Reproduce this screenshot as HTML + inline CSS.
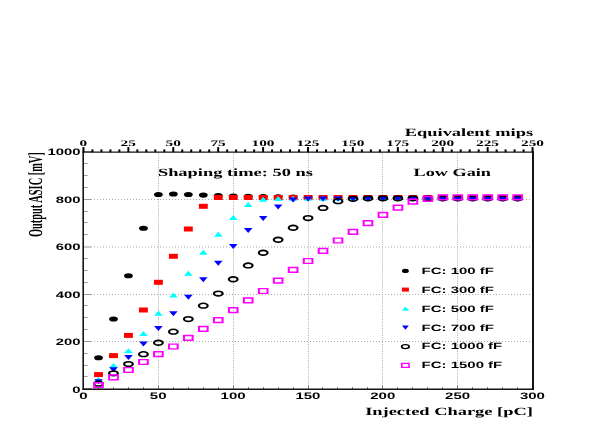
<!DOCTYPE html>
<html><head><meta charset="utf-8"><title>Output ASIC vs Injected Charge</title>
<style>html,body{margin:0;padding:0;background:#fff;}svg{display:block;will-change:transform;}.sf{font-family:"Liberation Serif",serif;font-weight:bold;fill:#000;text-rendering:geometricPrecision;}.ss{font-family:"Liberation Sans",sans-serif;font-weight:bold;fill:#000;text-rendering:geometricPrecision;}</style></head><body>
<svg width="599" height="436" viewBox="0 0 599 436">
<rect x="0" y="0" width="599" height="436" fill="#ffffff"/>
<g stroke="#aaaaaa" stroke-width="1" fill="none">
<line x1="158.50" y1="153.40" x2="158.50" y2="388.30" stroke-dasharray="0.95 1.32"/>
<line x1="233.50" y1="153.40" x2="233.50" y2="388.30" stroke-dasharray="0.95 1.32"/>
<line x1="308.50" y1="153.40" x2="308.50" y2="388.30" stroke-dasharray="0.95 1.32"/>
<line x1="382.50" y1="153.40" x2="382.50" y2="388.30" stroke-dasharray="0.95 1.32"/>
<line x1="457.50" y1="153.40" x2="457.50" y2="388.30" stroke-dasharray="0.95 1.32"/>
<line x1="94.00" y1="341.50" x2="532.50" y2="341.50" stroke-dasharray="1 2"/>
<line x1="94.00" y1="294.50" x2="532.50" y2="294.50" stroke-dasharray="1 2"/>
<line x1="94.00" y1="247.00" x2="532.50" y2="247.00" stroke-dasharray="1 2"/>
<line x1="94.00" y1="199.50" x2="532.50" y2="199.50" stroke-dasharray="1 2"/>
</g>
<g stroke="#999999" stroke-width="1" fill="none">
<line x1="83.00" y1="388.50" x2="91.80" y2="388.50"/>
<line x1="83.00" y1="376.50" x2="87.60" y2="376.50"/>
<line x1="83.00" y1="365.50" x2="87.60" y2="365.50"/>
<line x1="83.00" y1="353.50" x2="87.60" y2="353.50"/>
<line x1="83.00" y1="341.50" x2="91.80" y2="341.50"/>
<line x1="83.00" y1="329.50" x2="87.60" y2="329.50"/>
<line x1="83.00" y1="317.50" x2="87.60" y2="317.50"/>
<line x1="83.00" y1="305.50" x2="87.60" y2="305.50"/>
<line x1="83.00" y1="294.50" x2="91.80" y2="294.50"/>
<line x1="83.00" y1="282.50" x2="87.60" y2="282.50"/>
<line x1="83.00" y1="270.50" x2="87.60" y2="270.50"/>
<line x1="83.00" y1="258.50" x2="87.60" y2="258.50"/>
<line x1="83.00" y1="247.00" x2="91.80" y2="247.00"/>
<line x1="83.00" y1="234.50" x2="87.60" y2="234.50"/>
<line x1="83.00" y1="222.50" x2="87.60" y2="222.50"/>
<line x1="83.00" y1="211.50" x2="87.60" y2="211.50"/>
<line x1="83.00" y1="199.50" x2="91.80" y2="199.50"/>
<line x1="83.00" y1="187.50" x2="87.60" y2="187.50"/>
<line x1="83.00" y1="175.50" x2="87.60" y2="175.50"/>
<line x1="83.00" y1="163.50" x2="87.60" y2="163.50"/>
<line x1="83.00" y1="151.50" x2="91.80" y2="151.50"/>
</g>
<g stroke="#858585" stroke-width="1" fill="none">
<line x1="83.50" y1="389.30" x2="83.50" y2="384.90"/>
<line x1="98.50" y1="389.30" x2="98.50" y2="386.90"/>
<line x1="113.50" y1="389.30" x2="113.50" y2="386.90"/>
<line x1="128.50" y1="389.30" x2="128.50" y2="386.90"/>
<line x1="143.50" y1="389.30" x2="143.50" y2="386.90"/>
<line x1="158.50" y1="389.30" x2="158.50" y2="384.90"/>
<line x1="173.50" y1="389.30" x2="173.50" y2="386.90"/>
<line x1="188.50" y1="389.30" x2="188.50" y2="386.90"/>
<line x1="203.50" y1="389.30" x2="203.50" y2="386.90"/>
<line x1="218.50" y1="389.30" x2="218.50" y2="386.90"/>
<line x1="233.50" y1="389.30" x2="233.50" y2="384.90"/>
<line x1="248.50" y1="389.30" x2="248.50" y2="386.90"/>
<line x1="263.50" y1="389.30" x2="263.50" y2="386.90"/>
<line x1="278.50" y1="389.30" x2="278.50" y2="386.90"/>
<line x1="293.50" y1="389.30" x2="293.50" y2="386.90"/>
<line x1="308.50" y1="389.30" x2="308.50" y2="384.90"/>
<line x1="322.50" y1="389.30" x2="322.50" y2="386.90"/>
<line x1="337.50" y1="389.30" x2="337.50" y2="386.90"/>
<line x1="352.50" y1="389.30" x2="352.50" y2="386.90"/>
<line x1="367.50" y1="389.30" x2="367.50" y2="386.90"/>
<line x1="382.50" y1="389.30" x2="382.50" y2="384.90"/>
<line x1="397.50" y1="389.30" x2="397.50" y2="386.90"/>
<line x1="412.50" y1="389.30" x2="412.50" y2="386.90"/>
<line x1="427.50" y1="389.30" x2="427.50" y2="386.90"/>
<line x1="442.50" y1="389.30" x2="442.50" y2="386.90"/>
<line x1="457.50" y1="389.30" x2="457.50" y2="384.90"/>
<line x1="472.50" y1="389.30" x2="472.50" y2="386.90"/>
<line x1="487.50" y1="389.30" x2="487.50" y2="386.90"/>
<line x1="502.50" y1="389.30" x2="502.50" y2="386.90"/>
<line x1="517.50" y1="389.30" x2="517.50" y2="386.90"/>
<line x1="532.50" y1="389.30" x2="532.50" y2="384.90"/>
</g>
<g>
<ellipse cx="98.52" cy="357.80" rx="4.4" ry="2.55" fill="#000"/>
<ellipse cx="113.49" cy="319.00" rx="4.4" ry="2.55" fill="#000"/>
<ellipse cx="128.46" cy="275.70" rx="4.4" ry="2.55" fill="#000"/>
<ellipse cx="143.43" cy="228.30" rx="4.4" ry="2.55" fill="#000"/>
<ellipse cx="158.40" cy="194.50" rx="4.4" ry="2.55" fill="#000"/>
<ellipse cx="173.37" cy="194.00" rx="4.4" ry="2.55" fill="#000"/>
<ellipse cx="188.34" cy="194.50" rx="4.4" ry="2.55" fill="#000"/>
<ellipse cx="203.31" cy="195.10" rx="4.4" ry="2.55" fill="#000"/>
<ellipse cx="218.28" cy="195.60" rx="4.4" ry="2.55" fill="#000"/>
<ellipse cx="233.25" cy="196.00" rx="4.4" ry="2.55" fill="#000"/>
<ellipse cx="248.22" cy="196.30" rx="4.4" ry="2.55" fill="#000"/>
<ellipse cx="263.19" cy="196.60" rx="4.4" ry="2.55" fill="#000"/>
<ellipse cx="278.16" cy="196.80" rx="4.4" ry="2.55" fill="#000"/>
<ellipse cx="293.13" cy="197.00" rx="4.4" ry="2.55" fill="#000"/>
<ellipse cx="308.10" cy="197.60" rx="4.4" ry="2.55" fill="#000"/>
<ellipse cx="323.07" cy="197.60" rx="4.4" ry="2.55" fill="#000"/>
<ellipse cx="338.04" cy="197.60" rx="4.4" ry="2.55" fill="#000"/>
<ellipse cx="353.01" cy="197.60" rx="4.4" ry="2.55" fill="#000"/>
<ellipse cx="367.98" cy="197.60" rx="4.4" ry="2.55" fill="#000"/>
<ellipse cx="382.95" cy="197.60" rx="4.4" ry="2.55" fill="#000"/>
<ellipse cx="397.92" cy="197.60" rx="4.4" ry="2.55" fill="#000"/>
<ellipse cx="412.89" cy="197.60" rx="4.4" ry="2.55" fill="#000"/>
<ellipse cx="427.86" cy="197.60" rx="4.4" ry="2.55" fill="#000"/>
<ellipse cx="442.83" cy="197.60" rx="4.4" ry="2.55" fill="#000"/>
<ellipse cx="457.80" cy="197.60" rx="4.4" ry="2.55" fill="#000"/>
<ellipse cx="472.77" cy="197.60" rx="4.4" ry="2.55" fill="#000"/>
<ellipse cx="487.74" cy="197.60" rx="4.4" ry="2.55" fill="#000"/>
<ellipse cx="502.71" cy="197.60" rx="4.4" ry="2.55" fill="#000"/>
<ellipse cx="517.68" cy="197.60" rx="4.4" ry="2.55" fill="#000"/>
<rect x="94.07" y="372.10" width="8.9" height="5.0" fill="#ff0000"/>
<rect x="109.04" y="353.10" width="8.9" height="5.0" fill="#ff0000"/>
<rect x="124.01" y="332.90" width="8.9" height="5.0" fill="#ff0000"/>
<rect x="138.98" y="307.50" width="8.9" height="5.0" fill="#ff0000"/>
<rect x="153.95" y="279.80" width="8.9" height="5.0" fill="#ff0000"/>
<rect x="168.92" y="253.80" width="8.9" height="5.0" fill="#ff0000"/>
<rect x="183.89" y="226.50" width="8.9" height="5.0" fill="#ff0000"/>
<rect x="198.86" y="203.80" width="8.9" height="5.0" fill="#ff0000"/>
<rect x="213.83" y="195.00" width="8.9" height="5.0" fill="#ff0000"/>
<rect x="228.80" y="195.00" width="8.9" height="5.0" fill="#ff0000"/>
<rect x="243.77" y="195.00" width="8.9" height="5.0" fill="#ff0000"/>
<rect x="258.74" y="195.00" width="8.9" height="5.0" fill="#ff0000"/>
<rect x="273.71" y="195.00" width="8.9" height="5.0" fill="#ff0000"/>
<rect x="288.68" y="195.00" width="8.9" height="5.0" fill="#ff0000"/>
<rect x="303.65" y="195.00" width="8.9" height="5.0" fill="#ff0000"/>
<rect x="318.62" y="195.00" width="8.9" height="5.0" fill="#ff0000"/>
<rect x="333.59" y="195.00" width="8.9" height="5.0" fill="#ff0000"/>
<rect x="348.56" y="195.00" width="8.9" height="5.0" fill="#ff0000"/>
<rect x="363.53" y="195.00" width="8.9" height="5.0" fill="#ff0000"/>
<rect x="378.50" y="195.00" width="8.9" height="5.0" fill="#ff0000"/>
<rect x="393.47" y="195.00" width="8.9" height="5.0" fill="#ff0000"/>
<rect x="408.44" y="195.00" width="8.9" height="5.0" fill="#ff0000"/>
<rect x="423.41" y="195.00" width="8.9" height="5.0" fill="#ff0000"/>
<rect x="438.38" y="195.00" width="8.9" height="5.0" fill="#ff0000"/>
<rect x="453.35" y="195.00" width="8.9" height="5.0" fill="#ff0000"/>
<rect x="468.32" y="195.00" width="8.9" height="5.0" fill="#ff0000"/>
<rect x="483.29" y="195.00" width="8.9" height="5.0" fill="#ff0000"/>
<rect x="498.26" y="195.00" width="8.9" height="5.0" fill="#ff0000"/>
<rect x="513.23" y="195.00" width="8.9" height="5.0" fill="#ff0000"/>
<path d="M94.22 381.90L102.82 381.90L98.52 376.90Z" fill="#00ffff"/>
<path d="M109.19 368.10L117.79 368.10L113.49 363.10Z" fill="#00ffff"/>
<path d="M124.16 353.20L132.76 353.20L128.46 348.20Z" fill="#00ffff"/>
<path d="M139.13 335.90L147.73 335.90L143.43 330.90Z" fill="#00ffff"/>
<path d="M154.10 315.80L162.70 315.80L158.40 310.80Z" fill="#00ffff"/>
<path d="M169.07 297.40L177.67 297.40L173.37 292.40Z" fill="#00ffff"/>
<path d="M184.04 275.80L192.64 275.80L188.34 270.80Z" fill="#00ffff"/>
<path d="M199.01 254.70L207.61 254.70L203.31 249.70Z" fill="#00ffff"/>
<path d="M213.98 236.70L222.58 236.70L218.28 231.70Z" fill="#00ffff"/>
<path d="M228.95 220.00L237.55 220.00L233.25 215.00Z" fill="#00ffff"/>
<path d="M243.92 207.00L252.52 207.00L248.22 202.00Z" fill="#00ffff"/>
<path d="M258.89 201.80L267.49 201.80L263.19 196.80Z" fill="#00ffff"/>
<path d="M273.86 201.00L282.46 201.00L278.16 196.00Z" fill="#00ffff"/>
<path d="M288.83 200.80L297.43 200.80L293.13 195.80Z" fill="#00ffff"/>
<path d="M303.80 200.70L312.40 200.70L308.10 195.70Z" fill="#00ffff"/>
<path d="M318.77 200.70L327.37 200.70L323.07 195.70Z" fill="#00ffff"/>
<path d="M333.74 200.70L342.34 200.70L338.04 195.70Z" fill="#00ffff"/>
<path d="M348.71 200.70L357.31 200.70L353.01 195.70Z" fill="#00ffff"/>
<path d="M363.68 200.70L372.28 200.70L367.98 195.70Z" fill="#00ffff"/>
<path d="M378.65 200.70L387.25 200.70L382.95 195.70Z" fill="#00ffff"/>
<path d="M393.62 200.70L402.22 200.70L397.92 195.70Z" fill="#00ffff"/>
<path d="M408.59 200.70L417.19 200.70L412.89 195.70Z" fill="#00ffff"/>
<path d="M423.56 200.70L432.16 200.70L427.86 195.70Z" fill="#00ffff"/>
<path d="M438.53 200.70L447.13 200.70L442.83 195.70Z" fill="#00ffff"/>
<path d="M453.50 200.70L462.10 200.70L457.80 195.70Z" fill="#00ffff"/>
<path d="M468.47 200.70L477.07 200.70L472.77 195.70Z" fill="#00ffff"/>
<path d="M483.44 200.70L492.04 200.70L487.74 195.70Z" fill="#00ffff"/>
<path d="M498.41 200.70L507.01 200.70L502.71 195.70Z" fill="#00ffff"/>
<path d="M513.38 200.70L521.98 200.70L517.68 195.70Z" fill="#00ffff"/>
<path d="M94.22 379.20L102.82 379.20L98.52 384.20Z" fill="#0000ff"/>
<path d="M109.19 367.20L117.79 367.20L113.49 372.20Z" fill="#0000ff"/>
<path d="M124.16 355.00L132.76 355.00L128.46 360.00Z" fill="#0000ff"/>
<path d="M139.13 341.40L147.73 341.40L143.43 346.40Z" fill="#0000ff"/>
<path d="M154.10 326.10L162.70 326.10L158.40 331.10Z" fill="#0000ff"/>
<path d="M169.07 311.20L177.67 311.20L173.37 316.20Z" fill="#0000ff"/>
<path d="M184.04 294.80L192.64 294.80L188.34 299.80Z" fill="#0000ff"/>
<path d="M199.01 277.20L207.61 277.20L203.31 282.20Z" fill="#0000ff"/>
<path d="M213.98 260.80L222.58 260.80L218.28 265.80Z" fill="#0000ff"/>
<path d="M228.95 244.10L237.55 244.10L233.25 249.10Z" fill="#0000ff"/>
<path d="M243.92 228.00L252.52 228.00L248.22 233.00Z" fill="#0000ff"/>
<path d="M258.89 216.00L267.49 216.00L263.19 221.00Z" fill="#0000ff"/>
<path d="M273.86 204.40L282.46 204.40L278.16 209.40Z" fill="#0000ff"/>
<path d="M288.83 197.60L297.43 197.60L293.13 202.60Z" fill="#0000ff"/>
<path d="M303.80 196.50L312.40 196.50L308.10 201.50Z" fill="#0000ff"/>
<path d="M318.77 196.50L327.37 196.50L323.07 201.50Z" fill="#0000ff"/>
<path d="M333.74 196.50L342.34 196.50L338.04 201.50Z" fill="#0000ff"/>
<path d="M348.71 196.50L357.31 196.50L353.01 201.50Z" fill="#0000ff"/>
<path d="M363.68 196.50L372.28 196.50L367.98 201.50Z" fill="#0000ff"/>
<path d="M378.65 196.50L387.25 196.50L382.95 201.50Z" fill="#0000ff"/>
<path d="M393.62 196.50L402.22 196.50L397.92 201.50Z" fill="#0000ff"/>
<path d="M408.59 196.50L417.19 196.50L412.89 201.50Z" fill="#0000ff"/>
<path d="M423.56 196.50L432.16 196.50L427.86 201.50Z" fill="#0000ff"/>
<path d="M438.53 196.50L447.13 196.50L442.83 201.50Z" fill="#0000ff"/>
<path d="M453.50 196.50L462.10 196.50L457.80 201.50Z" fill="#0000ff"/>
<path d="M468.47 196.50L477.07 196.50L472.77 201.50Z" fill="#0000ff"/>
<path d="M483.44 196.50L492.04 196.50L487.74 201.50Z" fill="#0000ff"/>
<path d="M498.41 196.50L507.01 196.50L502.71 201.50Z" fill="#0000ff"/>
<path d="M513.38 196.50L521.98 196.50L517.68 201.50Z" fill="#0000ff"/>
<path d="M93.07 383.65a5.45 3.15 0 1 0 10.90 0a5.45 3.15 0 1 0 -10.90 0ZM95.32 383.65a3.2 1.55 0 1 0 6.40 0a3.2 1.55 0 1 0 -6.40 0Z" fill="#000" fill-rule="evenodd"/>
<path d="M108.04 373.35a5.45 3.15 0 1 0 10.90 0a5.45 3.15 0 1 0 -10.90 0ZM110.29 373.35a3.2 1.55 0 1 0 6.40 0a3.2 1.55 0 1 0 -6.40 0Z" fill="#000" fill-rule="evenodd"/>
<path d="M123.01 364.05a5.45 3.15 0 1 0 10.90 0a5.45 3.15 0 1 0 -10.90 0ZM125.26 364.05a3.2 1.55 0 1 0 6.40 0a3.2 1.55 0 1 0 -6.40 0Z" fill="#000" fill-rule="evenodd"/>
<path d="M137.98 354.15a5.45 3.15 0 1 0 10.90 0a5.45 3.15 0 1 0 -10.90 0ZM140.23 354.15a3.2 1.55 0 1 0 6.40 0a3.2 1.55 0 1 0 -6.40 0Z" fill="#000" fill-rule="evenodd"/>
<path d="M152.95 342.75a5.45 3.15 0 1 0 10.90 0a5.45 3.15 0 1 0 -10.90 0ZM155.20 342.75a3.2 1.55 0 1 0 6.40 0a3.2 1.55 0 1 0 -6.40 0Z" fill="#000" fill-rule="evenodd"/>
<path d="M167.92 331.65a5.45 3.15 0 1 0 10.90 0a5.45 3.15 0 1 0 -10.90 0ZM170.17 331.65a3.2 1.55 0 1 0 6.40 0a3.2 1.55 0 1 0 -6.40 0Z" fill="#000" fill-rule="evenodd"/>
<path d="M182.89 319.05a5.45 3.15 0 1 0 10.90 0a5.45 3.15 0 1 0 -10.90 0ZM185.14 319.05a3.2 1.55 0 1 0 6.40 0a3.2 1.55 0 1 0 -6.40 0Z" fill="#000" fill-rule="evenodd"/>
<path d="M197.86 305.65a5.45 3.15 0 1 0 10.90 0a5.45 3.15 0 1 0 -10.90 0ZM200.11 305.65a3.2 1.55 0 1 0 6.40 0a3.2 1.55 0 1 0 -6.40 0Z" fill="#000" fill-rule="evenodd"/>
<path d="M212.83 293.55a5.45 3.15 0 1 0 10.90 0a5.45 3.15 0 1 0 -10.90 0ZM215.08 293.55a3.2 1.55 0 1 0 6.40 0a3.2 1.55 0 1 0 -6.40 0Z" fill="#000" fill-rule="evenodd"/>
<path d="M227.80 279.25a5.45 3.15 0 1 0 10.90 0a5.45 3.15 0 1 0 -10.90 0ZM230.05 279.25a3.2 1.55 0 1 0 6.40 0a3.2 1.55 0 1 0 -6.40 0Z" fill="#000" fill-rule="evenodd"/>
<path d="M242.77 265.45a5.45 3.15 0 1 0 10.90 0a5.45 3.15 0 1 0 -10.90 0ZM245.02 265.45a3.2 1.55 0 1 0 6.40 0a3.2 1.55 0 1 0 -6.40 0Z" fill="#000" fill-rule="evenodd"/>
<path d="M257.74 252.75a5.45 3.15 0 1 0 10.90 0a5.45 3.15 0 1 0 -10.90 0ZM259.99 252.75a3.2 1.55 0 1 0 6.40 0a3.2 1.55 0 1 0 -6.40 0Z" fill="#000" fill-rule="evenodd"/>
<path d="M272.71 239.75a5.45 3.15 0 1 0 10.90 0a5.45 3.15 0 1 0 -10.90 0ZM274.96 239.75a3.2 1.55 0 1 0 6.40 0a3.2 1.55 0 1 0 -6.40 0Z" fill="#000" fill-rule="evenodd"/>
<path d="M287.68 227.75a5.45 3.15 0 1 0 10.90 0a5.45 3.15 0 1 0 -10.90 0ZM289.93 227.75a3.2 1.55 0 1 0 6.40 0a3.2 1.55 0 1 0 -6.40 0Z" fill="#000" fill-rule="evenodd"/>
<path d="M302.65 218.05a5.45 3.15 0 1 0 10.90 0a5.45 3.15 0 1 0 -10.90 0ZM304.90 218.05a3.2 1.55 0 1 0 6.40 0a3.2 1.55 0 1 0 -6.40 0Z" fill="#000" fill-rule="evenodd"/>
<path d="M317.62 207.95a5.45 3.15 0 1 0 10.90 0a5.45 3.15 0 1 0 -10.90 0ZM319.87 207.95a3.2 1.55 0 1 0 6.40 0a3.2 1.55 0 1 0 -6.40 0Z" fill="#000" fill-rule="evenodd"/>
<path d="M332.59 201.15a5.45 3.15 0 1 0 10.90 0a5.45 3.15 0 1 0 -10.90 0ZM334.84 201.15a3.2 1.55 0 1 0 6.40 0a3.2 1.55 0 1 0 -6.40 0Z" fill="#000" fill-rule="evenodd"/>
<path d="M347.56 198.85a5.45 3.15 0 1 0 10.90 0a5.45 3.15 0 1 0 -10.90 0ZM349.81 198.85a3.2 1.55 0 1 0 6.40 0a3.2 1.55 0 1 0 -6.40 0Z" fill="#000" fill-rule="evenodd"/>
<path d="M362.53 198.35a5.45 3.15 0 1 0 10.90 0a5.45 3.15 0 1 0 -10.90 0ZM364.78 198.35a3.2 1.55 0 1 0 6.40 0a3.2 1.55 0 1 0 -6.40 0Z" fill="#000" fill-rule="evenodd"/>
<path d="M377.50 198.35a5.45 3.15 0 1 0 10.90 0a5.45 3.15 0 1 0 -10.90 0ZM379.75 198.35a3.2 1.55 0 1 0 6.40 0a3.2 1.55 0 1 0 -6.40 0Z" fill="#000" fill-rule="evenodd"/>
<path d="M392.47 198.35a5.45 3.15 0 1 0 10.90 0a5.45 3.15 0 1 0 -10.90 0ZM394.72 198.35a3.2 1.55 0 1 0 6.40 0a3.2 1.55 0 1 0 -6.40 0Z" fill="#000" fill-rule="evenodd"/>
<path d="M407.44 198.35a5.45 3.15 0 1 0 10.90 0a5.45 3.15 0 1 0 -10.90 0ZM409.69 198.35a3.2 1.55 0 1 0 6.40 0a3.2 1.55 0 1 0 -6.40 0Z" fill="#000" fill-rule="evenodd"/>
<path d="M422.41 198.35a5.45 3.15 0 1 0 10.90 0a5.45 3.15 0 1 0 -10.90 0ZM424.66 198.35a3.2 1.55 0 1 0 6.40 0a3.2 1.55 0 1 0 -6.40 0Z" fill="#000" fill-rule="evenodd"/>
<path d="M437.38 198.35a5.45 3.15 0 1 0 10.90 0a5.45 3.15 0 1 0 -10.90 0ZM439.63 198.35a3.2 1.55 0 1 0 6.40 0a3.2 1.55 0 1 0 -6.40 0Z" fill="#000" fill-rule="evenodd"/>
<path d="M452.35 198.35a5.45 3.15 0 1 0 10.90 0a5.45 3.15 0 1 0 -10.90 0ZM454.60 198.35a3.2 1.55 0 1 0 6.40 0a3.2 1.55 0 1 0 -6.40 0Z" fill="#000" fill-rule="evenodd"/>
<path d="M467.32 198.35a5.45 3.15 0 1 0 10.90 0a5.45 3.15 0 1 0 -10.90 0ZM469.57 198.35a3.2 1.55 0 1 0 6.40 0a3.2 1.55 0 1 0 -6.40 0Z" fill="#000" fill-rule="evenodd"/>
<path d="M482.29 198.35a5.45 3.15 0 1 0 10.90 0a5.45 3.15 0 1 0 -10.90 0ZM484.54 198.35a3.2 1.55 0 1 0 6.40 0a3.2 1.55 0 1 0 -6.40 0Z" fill="#000" fill-rule="evenodd"/>
<path d="M497.26 198.35a5.45 3.15 0 1 0 10.90 0a5.45 3.15 0 1 0 -10.90 0ZM499.51 198.35a3.2 1.55 0 1 0 6.40 0a3.2 1.55 0 1 0 -6.40 0Z" fill="#000" fill-rule="evenodd"/>
<path d="M512.23 198.35a5.45 3.15 0 1 0 10.90 0a5.45 3.15 0 1 0 -10.90 0ZM514.48 198.35a3.2 1.55 0 1 0 6.40 0a3.2 1.55 0 1 0 -6.40 0Z" fill="#000" fill-rule="evenodd"/>
<path d="M93.17 382.00h10.7v6.2h-10.7ZM95.22 383.45h6.6v3.3h-6.6Z" fill="#ff00ff" fill-rule="evenodd"/>
<path d="M108.14 374.20h10.7v6.2h-10.7ZM110.19 375.65h6.6v3.3h-6.6Z" fill="#ff00ff" fill-rule="evenodd"/>
<path d="M123.11 366.90h10.7v6.2h-10.7ZM125.16 368.35h6.6v3.3h-6.6Z" fill="#ff00ff" fill-rule="evenodd"/>
<path d="M138.08 358.90h10.7v6.2h-10.7ZM140.13 360.35h6.6v3.3h-6.6Z" fill="#ff00ff" fill-rule="evenodd"/>
<path d="M153.05 351.00h10.7v6.2h-10.7ZM155.10 352.45h6.6v3.3h-6.6Z" fill="#ff00ff" fill-rule="evenodd"/>
<path d="M168.02 343.40h10.7v6.2h-10.7ZM170.07 344.85h6.6v3.3h-6.6Z" fill="#ff00ff" fill-rule="evenodd"/>
<path d="M182.99 334.70h10.7v6.2h-10.7ZM185.04 336.15h6.6v3.3h-6.6Z" fill="#ff00ff" fill-rule="evenodd"/>
<path d="M197.96 325.70h10.7v6.2h-10.7ZM200.01 327.15h6.6v3.3h-6.6Z" fill="#ff00ff" fill-rule="evenodd"/>
<path d="M212.93 317.00h10.7v6.2h-10.7ZM214.98 318.45h6.6v3.3h-6.6Z" fill="#ff00ff" fill-rule="evenodd"/>
<path d="M227.90 307.10h10.7v6.2h-10.7ZM229.95 308.55h6.6v3.3h-6.6Z" fill="#ff00ff" fill-rule="evenodd"/>
<path d="M242.87 297.20h10.7v6.2h-10.7ZM244.92 298.65h6.6v3.3h-6.6Z" fill="#ff00ff" fill-rule="evenodd"/>
<path d="M257.84 287.90h10.7v6.2h-10.7ZM259.89 289.35h6.6v3.3h-6.6Z" fill="#ff00ff" fill-rule="evenodd"/>
<path d="M272.81 277.50h10.7v6.2h-10.7ZM274.86 278.95h6.6v3.3h-6.6Z" fill="#ff00ff" fill-rule="evenodd"/>
<path d="M287.78 266.80h10.7v6.2h-10.7ZM289.83 268.25h6.6v3.3h-6.6Z" fill="#ff00ff" fill-rule="evenodd"/>
<path d="M302.75 257.90h10.7v6.2h-10.7ZM304.80 259.35h6.6v3.3h-6.6Z" fill="#ff00ff" fill-rule="evenodd"/>
<path d="M317.72 247.70h10.7v6.2h-10.7ZM319.77 249.15h6.6v3.3h-6.6Z" fill="#ff00ff" fill-rule="evenodd"/>
<path d="M332.69 237.40h10.7v6.2h-10.7ZM334.74 238.85h6.6v3.3h-6.6Z" fill="#ff00ff" fill-rule="evenodd"/>
<path d="M347.66 228.70h10.7v6.2h-10.7ZM349.71 230.15h6.6v3.3h-6.6Z" fill="#ff00ff" fill-rule="evenodd"/>
<path d="M362.63 220.10h10.7v6.2h-10.7ZM364.68 221.55h6.6v3.3h-6.6Z" fill="#ff00ff" fill-rule="evenodd"/>
<path d="M377.60 211.80h10.7v6.2h-10.7ZM379.65 213.25h6.6v3.3h-6.6Z" fill="#ff00ff" fill-rule="evenodd"/>
<path d="M392.57 204.60h10.7v6.2h-10.7ZM394.62 206.05h6.6v3.3h-6.6Z" fill="#ff00ff" fill-rule="evenodd"/>
<path d="M407.54 198.60h10.7v6.2h-10.7ZM409.59 200.05h6.6v3.3h-6.6Z" fill="#ff00ff" fill-rule="evenodd"/>
<path d="M422.51 195.70h10.7v6.2h-10.7ZM424.56 197.15h6.6v3.3h-6.6Z" fill="#ff00ff" fill-rule="evenodd"/>
<path d="M437.48 194.30h10.7v6.2h-10.7ZM439.53 195.75h6.6v3.3h-6.6Z" fill="#ff00ff" fill-rule="evenodd"/>
<path d="M452.45 194.30h10.7v6.2h-10.7ZM454.50 195.75h6.6v3.3h-6.6Z" fill="#ff00ff" fill-rule="evenodd"/>
<path d="M467.42 194.30h10.7v6.2h-10.7ZM469.47 195.75h6.6v3.3h-6.6Z" fill="#ff00ff" fill-rule="evenodd"/>
<path d="M482.39 194.30h10.7v6.2h-10.7ZM484.44 195.75h6.6v3.3h-6.6Z" fill="#ff00ff" fill-rule="evenodd"/>
<path d="M497.36 194.30h10.7v6.2h-10.7ZM499.41 195.75h6.6v3.3h-6.6Z" fill="#ff00ff" fill-rule="evenodd"/>
<path d="M512.33 194.30h10.7v6.2h-10.7ZM514.38 195.75h6.6v3.3h-6.6Z" fill="#ff00ff" fill-rule="evenodd"/>
</g>
<g stroke="#141414" fill="none" stroke-linecap="butt">
<line x1="83.2" y1="151.5" x2="83.2" y2="389.9" stroke-width="1.6"/>
<line x1="533.0" y1="151.5" x2="533.0" y2="389.9" stroke-width="2.0"/>
<line x1="82.4" y1="152.15" x2="534.0" y2="152.15" stroke-width="1.3"/>
<line x1="82.4" y1="389.22" x2="534.0" y2="389.22" stroke-width="1.36"/>
</g>
<g stroke="#000" stroke-width="2.0" fill="none">
<line x1="83.45" y1="152.20" x2="83.45" y2="147.10"/>
<line x1="92.43" y1="152.20" x2="92.43" y2="149.40"/>
<line x1="101.41" y1="152.20" x2="101.41" y2="149.40"/>
<line x1="110.40" y1="152.20" x2="110.40" y2="149.40"/>
<line x1="119.38" y1="152.20" x2="119.38" y2="149.40"/>
<line x1="128.36" y1="152.20" x2="128.36" y2="147.10"/>
<line x1="137.34" y1="152.20" x2="137.34" y2="149.40"/>
<line x1="146.32" y1="152.20" x2="146.32" y2="149.40"/>
<line x1="155.31" y1="152.20" x2="155.31" y2="149.40"/>
<line x1="164.29" y1="152.20" x2="164.29" y2="149.40"/>
<line x1="173.27" y1="152.20" x2="173.27" y2="147.10"/>
<line x1="182.25" y1="152.20" x2="182.25" y2="149.40"/>
<line x1="191.23" y1="152.20" x2="191.23" y2="149.40"/>
<line x1="200.22" y1="152.20" x2="200.22" y2="149.40"/>
<line x1="209.20" y1="152.20" x2="209.20" y2="149.40"/>
<line x1="218.18" y1="152.20" x2="218.18" y2="147.10"/>
<line x1="227.16" y1="152.20" x2="227.16" y2="149.40"/>
<line x1="236.14" y1="152.20" x2="236.14" y2="149.40"/>
<line x1="245.13" y1="152.20" x2="245.13" y2="149.40"/>
<line x1="254.11" y1="152.20" x2="254.11" y2="149.40"/>
<line x1="263.09" y1="152.20" x2="263.09" y2="147.10"/>
<line x1="272.07" y1="152.20" x2="272.07" y2="149.40"/>
<line x1="281.05" y1="152.20" x2="281.05" y2="149.40"/>
<line x1="290.04" y1="152.20" x2="290.04" y2="149.40"/>
<line x1="299.02" y1="152.20" x2="299.02" y2="149.40"/>
<line x1="308.00" y1="152.20" x2="308.00" y2="147.10"/>
<line x1="316.98" y1="152.20" x2="316.98" y2="149.40"/>
<line x1="325.96" y1="152.20" x2="325.96" y2="149.40"/>
<line x1="334.95" y1="152.20" x2="334.95" y2="149.40"/>
<line x1="343.93" y1="152.20" x2="343.93" y2="149.40"/>
<line x1="352.91" y1="152.20" x2="352.91" y2="147.10"/>
<line x1="361.89" y1="152.20" x2="361.89" y2="149.40"/>
<line x1="370.87" y1="152.20" x2="370.87" y2="149.40"/>
<line x1="379.86" y1="152.20" x2="379.86" y2="149.40"/>
<line x1="388.84" y1="152.20" x2="388.84" y2="149.40"/>
<line x1="397.82" y1="152.20" x2="397.82" y2="147.10"/>
<line x1="406.80" y1="152.20" x2="406.80" y2="149.40"/>
<line x1="415.78" y1="152.20" x2="415.78" y2="149.40"/>
<line x1="424.77" y1="152.20" x2="424.77" y2="149.40"/>
<line x1="433.75" y1="152.20" x2="433.75" y2="149.40"/>
<line x1="442.73" y1="152.20" x2="442.73" y2="147.10"/>
<line x1="451.71" y1="152.20" x2="451.71" y2="149.40"/>
<line x1="460.69" y1="152.20" x2="460.69" y2="149.40"/>
<line x1="469.68" y1="152.20" x2="469.68" y2="149.40"/>
<line x1="478.66" y1="152.20" x2="478.66" y2="149.40"/>
<line x1="487.64" y1="152.20" x2="487.64" y2="147.10"/>
<line x1="496.62" y1="152.20" x2="496.62" y2="149.40"/>
<line x1="505.60" y1="152.20" x2="505.60" y2="149.40"/>
<line x1="514.59" y1="152.20" x2="514.59" y2="149.40"/>
<line x1="523.57" y1="152.20" x2="523.57" y2="149.40"/>
<line x1="532.55" y1="152.20" x2="532.55" y2="147.10"/>
</g>
<text class="sf" transform="translate(83.35 146.10) scale(1.8 1)" font-size="8.5" text-anchor="middle">0</text>
<text class="sf" transform="translate(128.26 146.10) scale(1.8 1)" font-size="8.5" text-anchor="middle">25</text>
<text class="sf" transform="translate(173.17 146.10) scale(1.8 1)" font-size="8.5" text-anchor="middle">50</text>
<text class="sf" transform="translate(218.08 146.10) scale(1.8 1)" font-size="8.5" text-anchor="middle">75</text>
<text class="sf" transform="translate(262.99 146.10) scale(1.8 1)" font-size="8.5" text-anchor="middle">100</text>
<text class="sf" transform="translate(307.90 146.10) scale(1.8 1)" font-size="8.5" text-anchor="middle">125</text>
<text class="sf" transform="translate(352.81 146.10) scale(1.8 1)" font-size="8.5" text-anchor="middle">150</text>
<text class="sf" transform="translate(397.72 146.10) scale(1.8 1)" font-size="8.5" text-anchor="middle">175</text>
<text class="sf" transform="translate(442.63 146.10) scale(1.8 1)" font-size="8.5" text-anchor="middle">200</text>
<text class="sf" transform="translate(487.54 146.10) scale(1.8 1)" font-size="8.5" text-anchor="middle">225</text>
<text class="sf" transform="translate(532.45 146.10) scale(1.8 1)" font-size="8.5" text-anchor="middle">250</text>
<text class="ss" transform="translate(83.35 398.60) scale(1.61 1)" font-size="9.3" text-anchor="middle">0</text>
<text class="ss" transform="translate(158.20 398.60) scale(1.61 1)" font-size="9.3" text-anchor="middle">50</text>
<text class="ss" transform="translate(233.05 398.60) scale(1.61 1)" font-size="9.3" text-anchor="middle">100</text>
<text class="ss" transform="translate(307.90 398.60) scale(1.61 1)" font-size="9.3" text-anchor="middle">150</text>
<text class="ss" transform="translate(382.75 398.60) scale(1.61 1)" font-size="9.3" text-anchor="middle">200</text>
<text class="ss" transform="translate(457.60 398.60) scale(1.61 1)" font-size="9.3" text-anchor="middle">250</text>
<text class="ss" transform="translate(532.45 398.60) scale(1.61 1)" font-size="9.3" text-anchor="middle">300</text>
<text class="ss" transform="translate(80.40 392.95) scale(1.59 1)" font-size="9.3" text-anchor="end">0</text>
<text class="ss" transform="translate(80.40 345.03) scale(1.59 1)" font-size="9.3" text-anchor="end">200</text>
<text class="ss" transform="translate(80.40 297.61) scale(1.59 1)" font-size="9.3" text-anchor="end">400</text>
<text class="ss" transform="translate(80.40 250.19) scale(1.59 1)" font-size="9.3" text-anchor="end">600</text>
<text class="ss" transform="translate(80.40 202.77) scale(1.59 1)" font-size="9.3" text-anchor="end">800</text>
<text class="ss" transform="translate(80.40 155.35) scale(1.59 1)" font-size="9.3" text-anchor="end">1000</text>
<text class="sf" transform="translate(533.10 135.80) scale(1.665 1)" font-size="11.05" text-anchor="end">Equivalent mips</text>
<text class="sf" transform="translate(532.90 415.00) scale(1.667 1)" font-size="11.05" text-anchor="end">Injected Charge [pC]</text>
<text class="sf" transform="translate(157.90 175.60) scale(1.659 1)" font-size="11.1" text-anchor="start">Shaping time: 50 ns</text>
<text class="sf" transform="translate(413.60 175.80) scale(1.64 1)" font-size="11.1" text-anchor="start">Low Gain</text>
<text class="sf" transform="translate(42.3 237.05) rotate(-90) scale(1 1.9)" font-size="10.4" text-anchor="start">Output ASIC [mV]</text>
<ellipse cx="405.40" cy="270.90" rx="3.45" ry="2.1" fill="#000"/>
<rect x="401.90" y="287.60" width="7.0" height="4.0" fill="#ff0000"/>
<path d="M401.90 310.80L408.90 310.80L405.40 306.50Z" fill="#00ffff"/>
<path d="M402.00 325.40L408.80 325.40L405.40 329.70Z" fill="#0000ff"/>
<path d="M400.80 346.60a4.6 2.65 0 1 0 9.20 0a4.6 2.65 0 1 0 -9.20 0ZM402.50 346.60a2.9 1.35 0 1 0 5.80 0a2.9 1.35 0 1 0 -5.80 0Z" fill="#000" fill-rule="evenodd"/>
<path d="M400.95 362.65h8.9v5.3h-8.9ZM402.55 363.95h5.7v2.7h-5.7Z" fill="#ff00ff" fill-rule="evenodd"/>
<text class="ss" transform="translate(421.60 274.10) scale(1.628 1)" font-size="9.2" text-anchor="start">FC: 100 fF</text>
<text class="ss" transform="translate(421.60 292.95) scale(1.628 1)" font-size="9.2" text-anchor="start">FC: 300 fF</text>
<text class="ss" transform="translate(421.60 311.75) scale(1.628 1)" font-size="9.2" text-anchor="start">FC: 500 fF</text>
<text class="ss" transform="translate(421.60 330.60) scale(1.628 1)" font-size="9.2" text-anchor="start">FC: 700 fF</text>
<text class="ss" transform="translate(421.60 349.45) scale(1.628 1)" font-size="9.2" text-anchor="start">FC: 1000 fF</text>
<text class="ss" transform="translate(421.60 368.30) scale(1.628 1)" font-size="9.2" text-anchor="start">FC: 1500 fF</text>
</svg></body></html>
